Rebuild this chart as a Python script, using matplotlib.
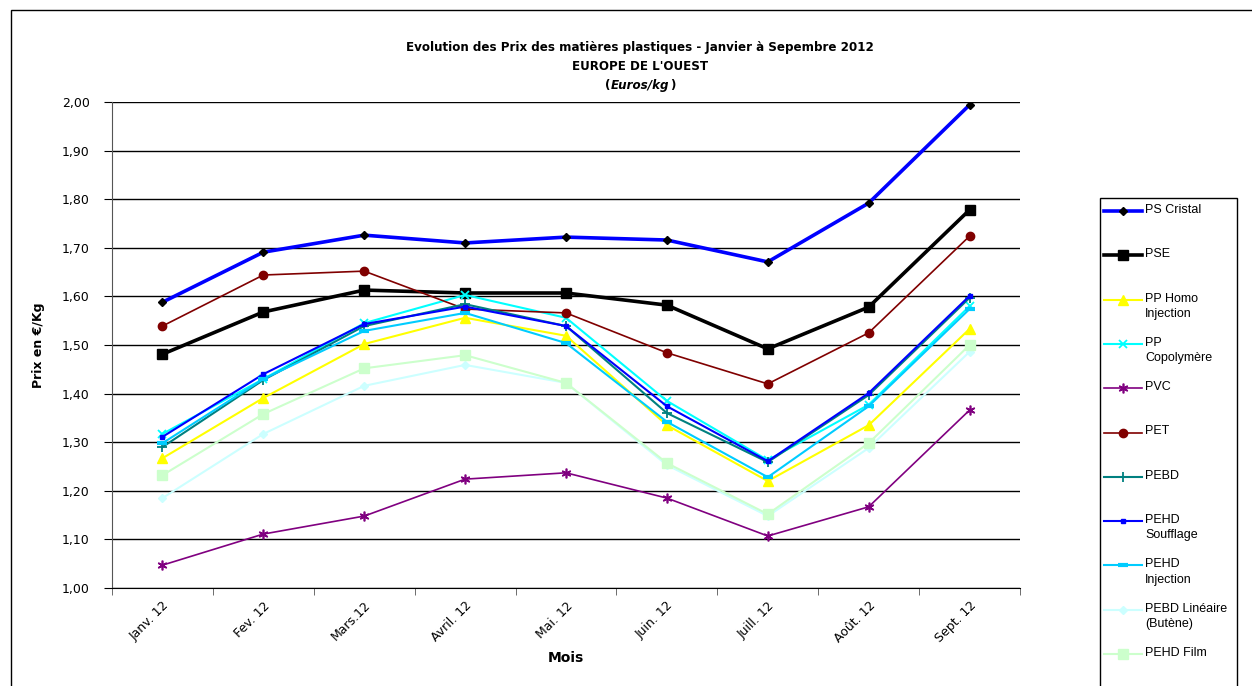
import matplotlib
matplotlib.use("Agg")
import matplotlib.pyplot as plt
from matplotlib.lines import Line2D
from matplotlib.patches import Rectangle

months = ["Janv. 12", "Fev. 12", "Mars.12", "Avril. 12", "Mai. 12",
          "Juin. 12", "Juill. 12", "Août. 12", "Sept. 12"]

ps_cristal = [1.588, 1.691, 1.726, 1.710, 1.722, 1.716, 1.671, 1.792, 1.994]
pse = [1.481, 1.568, 1.613, 1.607, 1.607, 1.582, 1.492, 1.578, 1.778]
pp_homo = [1.267, 1.391, 1.502, 1.556, 1.519, 1.335, 1.220, 1.335, 1.533]
pp_copo = [1.317, 1.430, 1.545, 1.603, 1.556, 1.385, 1.263, 1.377, 1.580]
pvc = [1.047, 1.111, 1.148, 1.224, 1.237, 1.185, 1.107, 1.167, 1.366]
pet = [1.539, 1.644, 1.652, 1.574, 1.566, 1.484, 1.420, 1.525, 1.724]
pebd = [1.290, 1.428, 1.539, 1.584, 1.539, 1.360, 1.259, 1.397, 1.597]
pehd_souff = [1.311, 1.440, 1.543, 1.579, 1.539, 1.374, 1.261, 1.401, 1.601]
pehd_inj = [1.298, 1.430, 1.529, 1.566, 1.504, 1.342, 1.228, 1.374, 1.574]
pebd_lin = [1.185, 1.317, 1.416, 1.459, 1.422, 1.253, 1.148, 1.288, 1.486]
pehd_film = [1.232, 1.358, 1.452, 1.479, 1.422, 1.257, 1.152, 1.298, 1.500]

series_labels = ["PS Cristal", "PSE", "PP Homo\nInjection", "PP\nCopolymère", "PVC",
                 "PET", "PEBD", "PEHD\nSoufflage", "PEHD\nInjection",
                 "PEBD Linéaire\n(Butène)", "PEHD Film"]
series_values = [ps_cristal, pse, pp_homo, pp_copo, pvc, pet, pebd,
                 pehd_souff, pehd_inj, pebd_lin, pehd_film]
styles = [
    dict(color="#0000FF", lw=2.6, marker="D", ms=4, mfc="black", mec="black"),
    dict(color="#000000", lw=2.6, marker="s", ms=7, mfc="black", mec="black"),
    dict(color="#FFFF00", lw=1.5, marker="^", ms=7, mfc="#FFFF00", mec="#FFFF00"),
    dict(color="#00FFFF", lw=1.5, marker="x", ms=6, mfc="#00FFFF", mec="#00FFFF", mew=1.3),
    dict(color="#800080", lw=1.2, marker=(6, 2, 0), ms=7, mfc="#800080", mec="#800080", mew=1.2),
    dict(color="#800000", lw=1.2, marker="o", ms=6, mfc="#800000", mec="#800000"),
    dict(color="#008080", lw=1.5, marker="+", ms=7, mfc="#008080", mec="#008080", mew=1.3),
    dict(color="#0000FF", lw=1.5, marker="s", ms=3.5, mfc="#0000FF", mec="#0000FF"),
    dict(color="#00CCFF", lw=1.5, marker="_", ms=7, mfc="#00CCFF", mec="#00CCFF", mew=3),
    dict(color="#CCFFFF", lw=1.5, marker="D", ms=4.5, mfc="#CCFFFF", mec="#CCFFFF"),
    dict(color="#CCFFCC", lw=1.5, marker="s", ms=7, mfc="#CCFFCC", mec="#CCFFCC"),
]

W, H = 1252, 686
fig = plt.figure(figsize=(W / 100, H / 100), dpi=100)
fig.patch.set_facecolor("white")

ax = fig.add_axes([112 / W, 1 - 588 / H, (1020 - 112) / W, (588 - 102) / H])
x = list(range(len(months)))
for vals, st in zip(series_values, styles):
    ax.plot(x, vals, **st, zorder=3)

ax.set_xlim(-0.5, len(months) - 0.5)
ax.set_ylim(1.0, 2.0)
yt = [1.0 + 0.1 * i for i in range(11)]
ax.set_yticks(yt)
ax.set_yticklabels([f"{v:.2f}".replace(".", ",") for v in yt], fontsize=9)
ax.yaxis.grid(True, color="black", lw=1.0)
ax.set_axisbelow(True)
ax.set_xticks(x)
ax.set_xticklabels(months, rotation=45, ha="right", rotation_mode="anchor", fontsize=9)
ax.set_xticks([i + 0.5 for i in range(-1, len(months))], minor=True)
ax.tick_params(axis="x", which="major", length=0, pad=8)
ax.tick_params(axis="x", which="minor", length=5, color="#555555")
ax.tick_params(axis="y", length=6, color="black", pad=10)
for s in ["top", "right"]:
    ax.spines[s].set_visible(False)
ax.spines["left"].set_color("#555555")
ax.spines["bottom"].set_color("black")
ax.set_xlabel("Mois", fontsize=10, fontweight="bold", labelpad=4)
ax.set_ylabel("Prix en €/Kg", fontsize=9, fontweight="bold", labelpad=12)

# Title
cx = 640 / W
fs_t = 8.6
fig.text(cx, 1 - 48 / H, "Evolution des Prix des matières plastiques - Janvier à Sepembre 2012",
         ha="center", va="center", fontsize=fs_t, fontweight="bold")
fig.text(cx, 1 - 67 / H, "EUROPE DE L'OUEST", ha="center", va="center",
         fontsize=fs_t, fontweight="bold")
mid = fig.text(cx, 1 - 86 / H, "Euros/kg", ha="center", va="center",
               fontsize=fs_t, fontweight="bold", style="italic")
fig.canvas.draw()
bb = mid.get_window_extent()
fig.text(bb.x0 / W - 0.5 / W, 1 - 86 / H, "(", ha="right", va="center",
         fontsize=fs_t, fontweight="bold")
fig.text(bb.x1 / W + 0.5 / W, 1 - 86 / H, ")", ha="left", va="center",
         fontsize=fs_t, fontweight="bold")

# Outer chart border
fig.patches.append(Rectangle((11 / W, -0.01), 1.2, 1 - 10 / H + 0.01, transform=fig.transFigure,
                             fill=False, lw=1.0, ec="black"))

# Legend (manual, Excel-like uniform spacing)
fig.patches.append(Rectangle((1100 / W, -0.01), (1237 - 1100) / W, 1 - 198 / H + 0.01,
                             transform=fig.transFigure, fill=False, lw=1.0, ec="black"))
y0 = 211
dy = 44.3
for i, (lab, st) in enumerate(zip(series_labels, styles)):
    yy = 1 - (y0 + i * dy) / H
    ln = Line2D([1104 / W, 1142 / W], [yy, yy], transform=fig.transFigure,
                color=st["color"], lw=st["lw"])
    fig.lines.append(ln)
    mk = Line2D([1123 / W], [yy], transform=fig.transFigure, color=st["color"],
                marker=st["marker"], ms=st["ms"], mfc=st["mfc"], mec=st["mec"],
                mew=st.get("mew", 1), lw=0)
    fig.lines.append(mk)
    fig.text(1145 / W, yy + 7 / H, lab, ha="left", va="top", fontsize=9,
             family="Liberation Sans", transform=fig.transFigure, linespacing=1.35)

fig.savefig("out.png", dpi=100, facecolor="white")
